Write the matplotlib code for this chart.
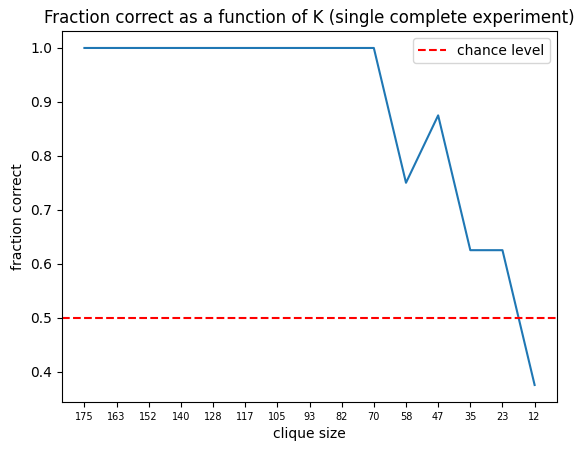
import matplotlib
matplotlib.use('Agg')
import matplotlib.pyplot as plt

clique_sizes = [175, 163, 152, 140, 128, 117, 105, 93, 82, 70, 58, 47, 35, 23, 12]
fraction_correct = [1.0, 1.0, 1.0, 1.0, 1.0, 1.0, 1.0, 1.0, 1.0, 1.0, 0.75, 0.875, 0.625, 0.625, 0.375]
chance = 0.5

fig, ax = plt.subplots(figsize=(5.84, 4.51), dpi=100)
x = range(len(clique_sizes))
ax.plot(x, fraction_correct)
ax.axhline(chance, color='red', linestyle='--', label='chance level')
ax.set_xticks(list(x))
ax.set_xticklabels([str(k) for k in clique_sizes], fontsize=7)
ax.set_xlabel('clique size')
ax.set_ylabel('fraction correct')
ax.set_title('Fraction correct as a function of K (single complete experiment)')
ax.legend(loc='upper right')
fig.subplots_adjust(left=0.106, right=0.954, top=0.931, bottom=0.109)
fig.savefig('out.png')
